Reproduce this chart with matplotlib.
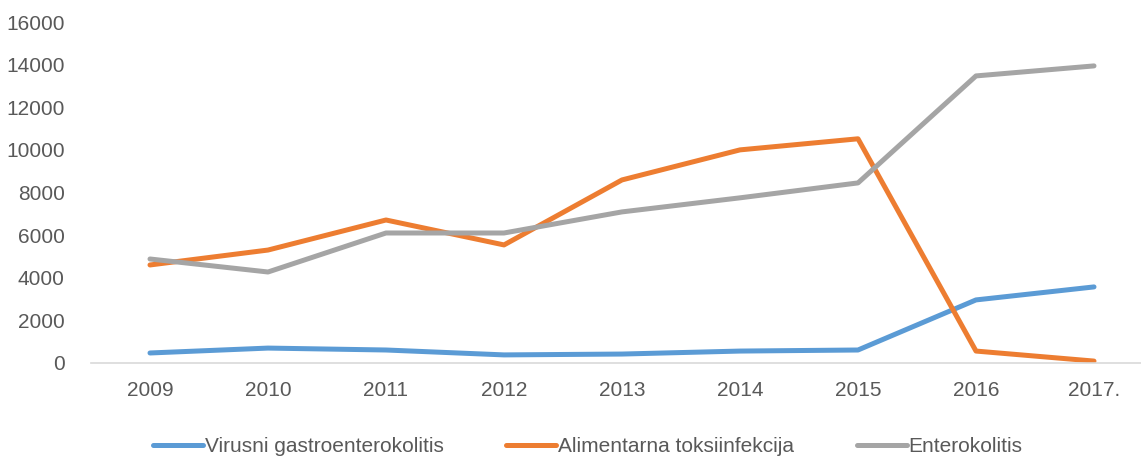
import matplotlib.pyplot as plt

years = ["2009", "2010", "2011", "2012", "2013", "2014", "2015", "2016", "2017."]
virusni = [470, 700, 610, 380, 420, 560, 610, 2960, 3570]
alimentarna = [4600, 5300, 6710, 5540, 8590, 10000, 10520, 560, 90]
enterokolitis = [4880, 4270, 6100, 6100, 7090, 7750, 8450, 13470, 13940]

plt.rcParams['font.family'] = ['Liberation Sans', 'DejaVu Sans']
txt = '#595959'

fig = plt.figure(figsize=(11.41, 4.57), dpi=100)
ax = fig.add_axes([91 / 1141, 94 / 457, 1062 / 1141, 341 / 457])

x = range(len(years))
ax.plot(x, virusni, color='#5B9BD5', lw=3.6, label='Virusni gastroenterokolitis', solid_capstyle='round')
ax.plot(x, alimentarna, color='#ED7D31', lw=3.6, label='Alimentarna toksiinfekcija', solid_capstyle='round')
ax.plot(x, enterokolitis, color='#A5A5A5', lw=3.6, label='Enterokolitis', solid_capstyle='round')

ax.set_xlim(-0.5, len(years) - 0.5)
ax.set_ylim(0, 16000)
ax.set_yticks(range(0, 16001, 2000))
ax.set_xticks(list(x))
ax.set_xticklabels(years)
ax.tick_params(length=0, labelsize=15, colors=txt)
ax.tick_params(axis='x', pad=13)
ax.tick_params(axis='y', pad=19)
for s in ['top', 'right', 'left']:
    ax.spines[s].set_visible(False)
ax.spines['bottom'].set_color('#D9D9D9')
ax.spines['bottom'].set_linewidth(1.2)

fig.legend(loc='center', bbox_to_anchor=(0.515, 10 / 457), ncol=3, frameon=False,
           fontsize=15, handlelength=2.4, columnspacing=3.0, handletextpad=0.1,
           labelcolor=txt)

fig.savefig('out.png', dpi=100)
